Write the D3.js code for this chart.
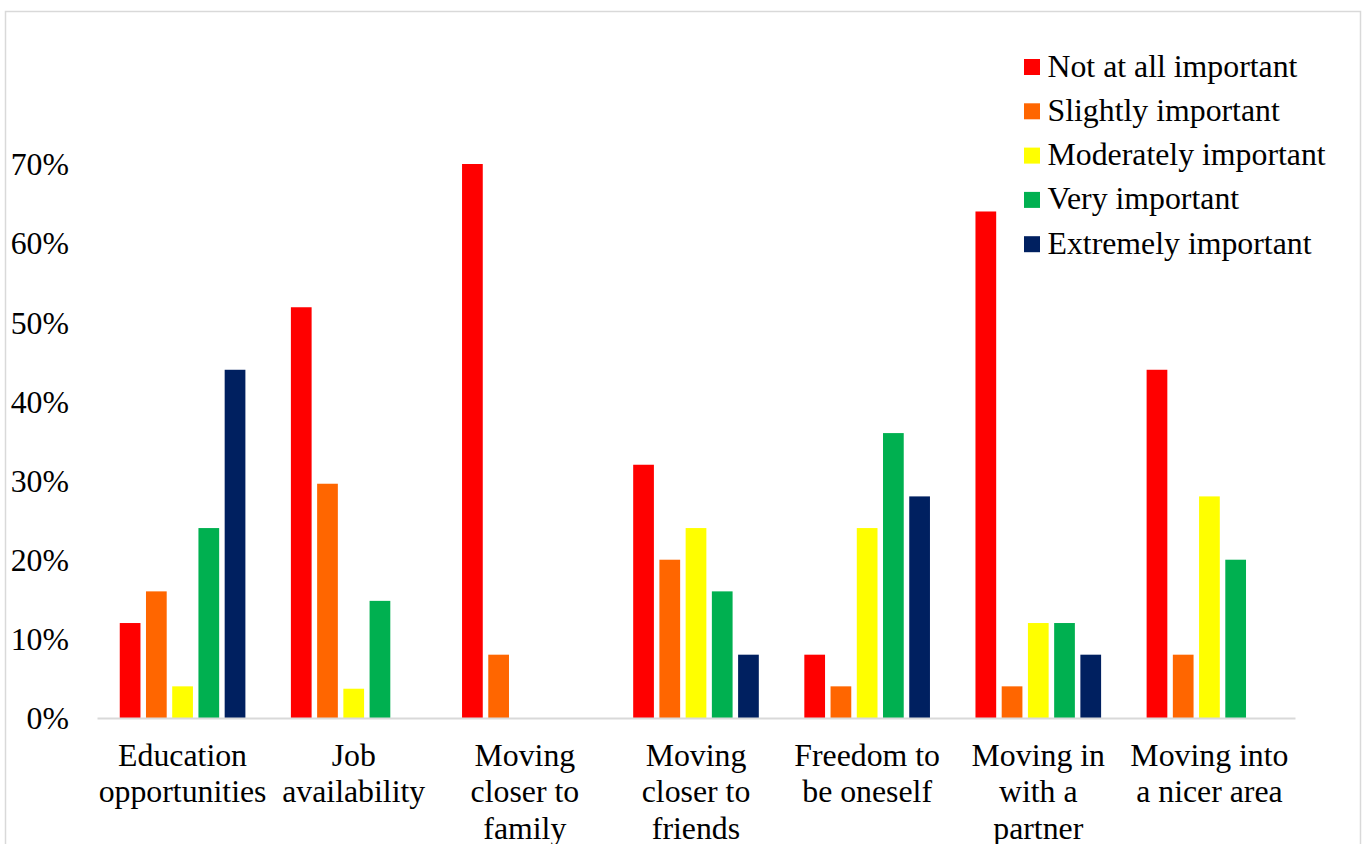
<!DOCTYPE html>
<html>
<head>
<meta charset="utf-8">
<script src="https://cdn.jsdelivr.net/npm/d3@7"></script>
<style>
  html, body { margin: 0; padding: 0; background: #fff; }
  svg { display: block; }
  text { font-family: "Liberation Serif", "Times New Roman", serif; fill: #000; }
</style>
</head>
<body>
<svg id="chart" width="1365" height="844"></svg>
<script>
// Reasons for moving, share of respondents by importance rating
const categories = [
  "Education opportunities",
  "Job availability",
  "Moving closer to family",
  "Moving closer to friends",
  "Freedom to be oneself",
  "Moving in with a partner",
  "Moving into a nicer area"
];
const categoryLines = [
  ["Education", "opportunities"],
  ["Job", "availability"],
  ["Moving", "closer to", "family"],
  ["Moving", "closer to", "friends"],
  ["Freedom to", "be oneself"],
  ["Moving in", "with a", "partner"],
  ["Moving into", "a nicer area"]
];
const seriesNames = [
  "Not at all important",
  "Slightly important",
  "Moderately important",
  "Very important",
  "Extremely important"
];
const notAtAll   = [12, 51.9, 70, 32, 8, 64, 44];
const slightly   = [16, 29.6, 8, 20, 4, 4, 8];
const moderately = [4, 3.7, 0, 24, 24, 12, 28];
const very       = [24, 14.8, 0, 16, 36, 12, 20];
const extremely  = [44, 0, 0, 8, 28, 8, 0];
const yTicks = [0, 10, 20, 30, 40, 50, 60, 70];
const colors = ["#FF0000", "#FF6600", "#FFFF00", "#00B050", "#002060"];

const seriesValues = [notAtAll, slightly, moderately, very, extremely];
const fontSize = 31.8;

const svg = d3.select("#chart");

// chart frame
svg.append("rect")
  .attr("x", 5.5).attr("y", 11.5)
  .attr("width", 1355).attr("height", 900)
  .attr("fill", "none").attr("stroke", "#d9d9d9").attr("stroke-width", 1.5);

const plot = { left: 97, right: 1295, top: 164, bottom: 718 };

const x0 = d3.scaleBand()
  .domain(categories)
  .range([plot.left, plot.right])
  .paddingInner(0).paddingOuter(0);

const x1 = d3.scaleBand()
  .domain(seriesNames)
  .range([20, x0.bandwidth() - 20])
  .paddingInner(0.21).paddingOuter(0.105);

const y = d3.scaleLinear()
  .domain([0, 70])
  .range([plot.bottom, plot.top]);

// bars
const groups = svg.append("g").selectAll("g")
  .data(categories)
  .join("g")
  .attr("transform", d => `translate(${x0(d)},0)`);

groups.selectAll("rect")
  .data((d, i) => seriesNames.map((s, j) => ({ series: s, value: seriesValues[j][i], color: colors[j] })))
  .join("rect")
  .filter(d => d.value > 0)
  .attr("x", d => x1(d.series))
  .attr("width", x1.bandwidth())
  .attr("y", d => y(d.value))
  .attr("height", d => y(0) - y(d.value))
  .attr("fill", d => d.color);

// y axis labels
const yAxis = d3.axisLeft(y)
  .tickValues(yTicks)
  .tickFormat(d => d + "%")
  .tickSize(0)
  .tickPadding(0);

const yg = svg.append("g")
  .attr("transform", `translate(69,0)`)
  .call(yAxis);
yg.select(".domain").remove();
yg.selectAll("text")
  .attr("font-family", "Liberation Serif, Times New Roman, serif")
  .attr("font-size", fontSize)
  .attr("fill", "#000")
  .attr("dy", "0.34em");

// x axis baseline
const xAxis = d3.axisBottom(x0).tickSize(0).tickFormat("");
const xg = svg.append("g")
  .attr("transform", `translate(0,${plot.bottom})`)
  .call(xAxis);
xg.select(".domain")
  .attr("stroke", "#d9d9d9")
  .attr("stroke-width", 2);

// category labels
categories.forEach((c, i) => {
  const t = svg.append("text")
    .attr("x", x0(c) + x0.bandwidth() / 2)
    .attr("y", 766)
    .attr("text-anchor", "middle")
    .attr("font-size", fontSize);
  categoryLines[i].forEach((line, k) => {
    t.append("tspan")
      .attr("x", x0(c) + x0.bandwidth() / 2)
      .attr("y", 766 + k * 36.3)
      .text(line);
  });
});

// legend
const legend = svg.append("g").attr("transform", "translate(1024,59)");
seriesNames.forEach((s, j) => {
  const row = legend.append("g").attr("transform", `translate(0,${j * 44.3})`);
  row.append("rect")
    .attr("width", 16).attr("height", 16)
    .attr("fill", colors[j]);
  row.append("text")
    .attr("x", 23.5).attr("y", 17.5)
    .attr("font-size", fontSize)
    .text(s);
});
</script>
</body>
</html>
